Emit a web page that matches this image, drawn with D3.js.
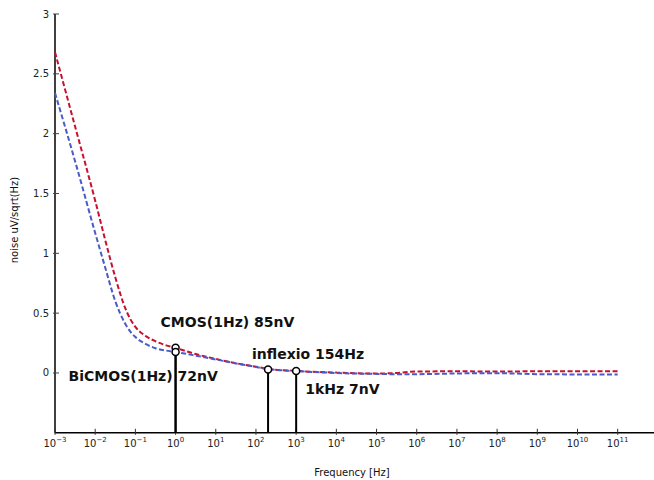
<!DOCTYPE html>
<html>
<head>
<meta charset="utf-8">
<script src="https://cdn.jsdelivr.net/npm/d3@7"></script>
<style>
    body { margin: 0; background: #fff; }
    svg { display: block; font-family: "DejaVu Sans", sans-serif; }
    .tick-label { font-size: 10px; fill: #222; }
    .axis-title { font-size: 10px; fill: #111; }
    .note { font-size: 14px; font-weight: bold; fill: #111; }
</style>
</head>
<body>
<div id="chart"></div>
<script>
// frequency points (Hz) the curves were read at
var freqHz = [1e-3, 3.16e-3, 1e-2, 1.78e-2, 3.16e-2, 5.62e-2, 7.5e-2, 0.1, 0.178, 0.316, 0.562, 1, 3.16, 10, 31.6, 100, 200, 1e3, 1e4, 1e5, 3.16e5, 1e6, 1e7, 1e8, 1e9, 1e10, 1e11];
// noise in uV/sqrt(Hz)
var cmosNoise = [2.68, 2.06, 1.44, 1.11, 0.80, 0.54, 0.45, 0.385, 0.31, 0.265, 0.233, 0.21, 0.158, 0.117, 0.082, 0.052, 0.034, 0.017, 0.003, -0.005, 0.0, 0.012, 0.014, 0.012, 0.014, 0.014, 0.014];
var bicmosNoise = [2.34, 1.77, 1.17, 0.88, 0.60, 0.41, 0.345, 0.30, 0.243, 0.207, 0.188, 0.175, 0.145, 0.113, 0.08, 0.05, 0.032, 0.016, 0.0, -0.008, -0.01, -0.01, -0.004, -0.002, -0.01, -0.012, -0.012];

var yTicks = [0, 0.5, 1, 1.5, 2, 2.5, 3];
var xDecades = [-3, -2, -1, 0, 1, 2, 3, 4, 5, 6, 7, 8, 9, 10, 11];

// annotated points
var markFreq = [1, 1, 200, 1000];
var markValue = [0.21, 0.175, 0.03, 0.017];
var markLabel = ["CMOS(1Hz) 85nV", "BiCMOS(1Hz) 72nV", "inflexio 154Hz", "1kHz 7nV"];

var width = 654, height = 480;
var margin = { left: 55, right: 654, top: 14, bottom: 432.8 };

var x = d3.scaleLog().domain([1e-3, 8e11]).range([margin.left, margin.right]);
var y = d3.scaleLinear().domain([-0.5, 3]).range([margin.bottom, margin.top]);

var svg = d3.select("#chart").append("svg")
    .attr("width", width)
    .attr("height", height);

// axes lines
svg.append("line")
    .attr("x1", margin.left).attr("x2", margin.left)
    .attr("y1", margin.top).attr("y2", margin.bottom)
    .attr("stroke", "#000").attr("stroke-width", 1.5);
svg.append("line")
    .attr("x1", margin.left).attr("x2", margin.right)
    .attr("y1", margin.bottom).attr("y2", margin.bottom)
    .attr("stroke", "#000").attr("stroke-width", 1.5);

// y ticks
var yg = svg.append("g");
yg.selectAll("line").data(yTicks).enter().append("line")
    .attr("x1", margin.left - 2).attr("x2", margin.left + 4)
    .attr("y1", function (d) { return y(d); })
    .attr("y2", function (d) { return y(d); })
    .attr("stroke", "#444").attr("stroke-width", 1);
yg.selectAll("text").data(yTicks).enter().append("text")
    .attr("class", "tick-label")
    .attr("x", margin.left - 6)
    .attr("y", function (d) { return y(d) + 3.5; })
    .attr("text-anchor", "end")
    .text(function (d) { return d; });

// x ticks (major + minor, log scale)
var minor = x.ticks().filter(function (d) {
    var e = Math.log10(d);
    return Math.abs(e - Math.round(e)) > 1e-6;
});
var xg = svg.append("g");
xg.selectAll("line.minor").data(minor).enter().append("line")
    .attr("class", "minor")
    .attr("x1", function (d) { return x(d); })
    .attr("x2", function (d) { return x(d); })
    .attr("y1", margin.bottom - 2).attr("y2", margin.bottom + 1.5)
    .attr("stroke", "#333").attr("stroke-width", 1);
xg.selectAll("line.major").data(xDecades).enter().append("line")
    .attr("class", "major")
    .attr("x1", function (d) { return x(Math.pow(10, d)); })
    .attr("x2", function (d) { return x(Math.pow(10, d)); })
    .attr("y1", margin.bottom - 4).attr("y2", margin.bottom + 2)
    .attr("stroke", "#333").attr("stroke-width", 1);
var xl = xg.selectAll("text").data(xDecades).enter().append("text")
    .attr("class", "tick-label")
    .attr("x", function (d) { return x(Math.pow(10, d)); })
    .attr("y", margin.bottom + 14)
    .attr("text-anchor", "middle");
xl.append("tspan").text("10");
xl.append("tspan")
    .attr("dy", -5)
    .attr("font-size", "7px")
    .text(function (d) { return d < 0 ? "\u2212" + (-d) : d; });

// axis titles
svg.append("text")
    .attr("class", "axis-title")
    .attr("x", 352).attr("y", 476)
    .attr("text-anchor", "middle")
    .text("Frequency [Hz]");
svg.append("text")
    .attr("class", "axis-title")
    .attr("transform", "translate(18,220) rotate(-90)")
    .attr("text-anchor", "middle")
    .text("noise uV/sqrt(Hz)");

// curves
var line = d3.line()
    .x(function (d) { return x(d[0]); })
    .y(function (d) { return y(d[1]); })
    .curve(d3.curveMonotoneX);

var series = [
    { values: cmosNoise, color: "#c8102e" },
    { values: bicmosNoise, color: "#4a5ac8" }
];
series.forEach(function (s) {
    svg.append("path")
        .datum(freqHz.map(function (f, i) { return [f, s.values[i]]; }))
        .attr("d", line)
        .attr("fill", "none")
        .attr("stroke", s.color)
        .attr("stroke-width", 2)
        .attr("stroke-dasharray", "5,2.5");
});

// annotation stems + markers
var marks = markFreq.map(function (f, i) { return { f: f, v: markValue[i] }; });
svg.selectAll("line.stem").data(marks).enter().append("line")
    .attr("class", "stem")
    .attr("x1", function (d) { return x(d.f); })
    .attr("x2", function (d) { return x(d.f); })
    .attr("y1", function (d) { return y(d.v); })
    .attr("y2", margin.bottom)
    .attr("stroke", "#000").attr("stroke-width", 2);
svg.selectAll("circle.mark").data(marks).enter().append("circle")
    .attr("class", "mark")
    .attr("cx", function (d) { return x(d.f); })
    .attr("cy", function (d) { return y(d.v); })
    .attr("r", 3.5)
    .attr("fill", "#fff")
    .attr("stroke", "#000").attr("stroke-width", 1.5);

// annotation labels (offsets from their markers)
var labelDx = [-15, -107, -16, 9];
var labelDy = [-21, 29, -10, 23];
svg.selectAll("text.note").data(marks).enter().append("text")
    .attr("class", "note")
    .attr("x", function (d, i) { return x(d.f) + labelDx[i]; })
    .attr("y", function (d, i) { return y(d.v) + labelDy[i]; })
    .text(function (d, i) { return markLabel[i]; });
</script>
</body>
</html>
